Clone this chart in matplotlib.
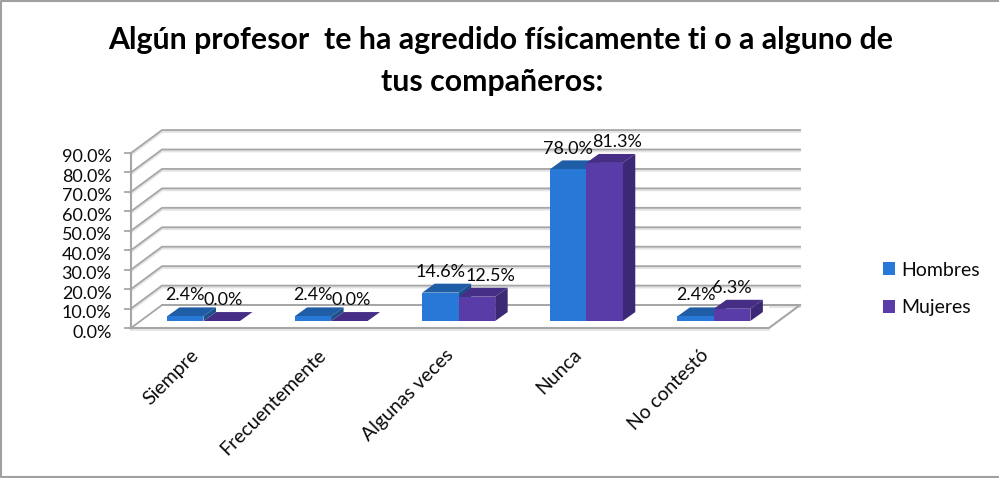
import numpy as np
import matplotlib
matplotlib.use('Agg')
import matplotlib.pyplot as plt
from matplotlib.lines import Line2D
from matplotlib.patches import Polygon, Rectangle
from matplotlib.transforms import ScaledTranslation

categories = ['Siempre', 'Frecuentemente', 'Algunas veces', 'Nunca', 'No contestó']
hombres = [2.4, 2.4, 14.6, 78.0, 2.4]
mujeres = [0.0, 0.0, 12.5, 81.3, 6.3]
y_ticks = [0, 10, 20, 30, 40, 50, 60, 70, 80, 90]

W, H = 999, 478
plt.rcParams['font.family'] = ['Lato', 'DejaVu Sans']

BLUE = ('#2878d8', '#1f5ea6', '#1b5088')
PURPLE = ('#5a3ca8', '#462e86', '#3c2975')
TEXT = '#0a0a0a'

# oblique depth of the box and of the bars, in data units
WALL_DX, WALL_DY = 0.243, 11.8
BAR_DX, BAR_DY = 0.098, 4.6
BASE_DY = 3.6
BAR_W = 0.286
BAR_X0 = 0.282
# mujeres labels sit further right in the original, in px
MUJERES_LABEL_SHIFT = [1.5, 1.5, 14, 13, 0]

fig = plt.figure(figsize=(W / 100, H / 100), dpi=100)
ax = fig.add_axes([131 / W, 1 - 328 / H, 638 / W, 175 / H])
ax.set_xlim(0, 5)
ax.set_ylim(0, 90)
ax.patch.set_visible(False)
for s in ax.spines.values():
    s.set_visible(False)

# walls
for v in y_ticks:
    xs = [0, WALL_DX, 5 + WALL_DX]
    ys = [v, v + WALL_DY, v + WALL_DY]
    ax.plot(xs, [y - 0.9 for y in ys], color='#e4e4e4', lw=1.6, clip_on=False, zorder=1)
    ax.plot(xs, ys, color='#a6a6a6', lw=1.3, clip_on=False, zorder=2)
    ax.plot([-0.045, 0], [v, v], color='#a6a6a6', lw=1.3, clip_on=False, zorder=2)
ax.plot([0, 0], [0, 90], color='#a6a6a6', lw=1.5, clip_on=False, zorder=2)
ax.plot([0, 5], [-1, -1], color='#e4e4e4', lw=1.2, clip_on=False, zorder=1)
ax.fill([0, 5, 5 + WALL_DX, WALL_DX], [0, 0, WALL_DY, WALL_DY], color='white', zorder=1.5)
ax.plot([WALL_DX, 5 + WALL_DX], [WALL_DY, WALL_DY], color='#a6a6a6', lw=1.3, clip_on=False, zorder=2)
ax.plot([0, 5, 5 + WALL_DX], [0, 0, WALL_DY], color='#a6a6a6', lw=1.5, clip_on=False, zorder=2)


def draw_bar(x, val, colors, z, shift=0):
    y0 = BASE_DY
    y1 = BASE_DY + val
    ax.bar(x, val, BAR_W, bottom=y0, align='edge', color=colors[0], lw=0, zorder=z + 0.2, clip_on=False)
    ax.add_patch(Polygon([(x, y1), (x + BAR_W, y1), (x + BAR_W + BAR_DX, y1 + BAR_DY), (x + BAR_DX, y1 + BAR_DY)],
                         closed=True, fc=colors[1], lw=0, zorder=z, clip_on=False))
    ax.add_patch(Polygon([(x + BAR_W, y0), (x + BAR_W + BAR_DX, y0 + BAR_DY), (x + BAR_W + BAR_DX, y1 + BAR_DY), (x + BAR_W, y1)],
                         closed=True, fc=colors[2], lw=0, zorder=z, clip_on=False))
    ax.annotate('%.1f%%' % val, (x + BAR_W / 2, y1), xytext=(shift * 0.72, 15), textcoords='offset points',
                ha='center', va='center', fontsize=13, color=TEXT, zorder=20, annotation_clip=False)


for i in range(len(categories)):
    draw_bar(i + BAR_X0, hombres[i], BLUE, 5 + i)
    draw_bar(i + BAR_X0 + BAR_W, mujeres[i], PURPLE, 5.5 + i, MUJERES_LABEL_SHIFT[i])

ax.set_yticks(y_ticks)
ax.set_yticklabels(['%.1f%%' % v for v in y_ticks], fontsize=13, color=TEXT)
ax.set_xticks(np.arange(len(categories)) + 0.5)
ax.set_xticklabels(categories, fontsize=14, rotation=45, ha='right', rotation_mode='anchor', color=TEXT)
ax.tick_params(axis='both', length=0)
ax.tick_params(axis='y', pad=14)
ax.tick_params(axis='x', pad=13)

# nudge tick labels, px at dpi 100
y_nudge = ScaledTranslation(0, -3 / 100, fig.dpi_scale_trans)
for lab in ax.get_yticklabels():
    lab.set_transform(lab.get_transform() + y_nudge)
x_nudge = ScaledTranslation(-5 / 100, 0, fig.dpi_scale_trans)
for lab in ax.get_xticklabels():
    lab.set_transform(lab.get_transform() + x_nudge)

# legend
handles = [Rectangle((0, 0), 1, 1, fc=BLUE[0], lw=0), Rectangle((0, 0), 1, 1, fc=PURPLE[0], lw=0)]
fig.legend(handles, ['Hombres', 'Mujeres'], loc='center left', bbox_to_anchor=(865.5 / W, 1 - 289 / H),
           frameon=False, fontsize=14, handlelength=0.62, handleheight=0.62, handletextpad=0.31, labelspacing=1.08,
           labelcolor=TEXT)

fig.text(501 / W, 1 - 40 / H, 'Algún profesor  te ha agredido físicamente ti o a alguno de',
         ha='center', va='center', fontsize=21.8, fontweight='bold', color='black')
fig.text(492 / W, 1 - 82 / H, 'tus compañeros:',
         ha='center', va='center', fontsize=21.8, fontweight='bold', color='black')

# chart border: top, left and bottom only, the right edge is cut off in the original
fig.add_artist(Line2D([1, 1 / W, 1 / W, 1], [1 - 0.7 / H, 1 - 0.7 / H, 1 / H, 1 / H], transform=fig.transFigure,
                      color='#a0a0a0', lw=1.5))

fig.savefig('out.png', dpi=100)
